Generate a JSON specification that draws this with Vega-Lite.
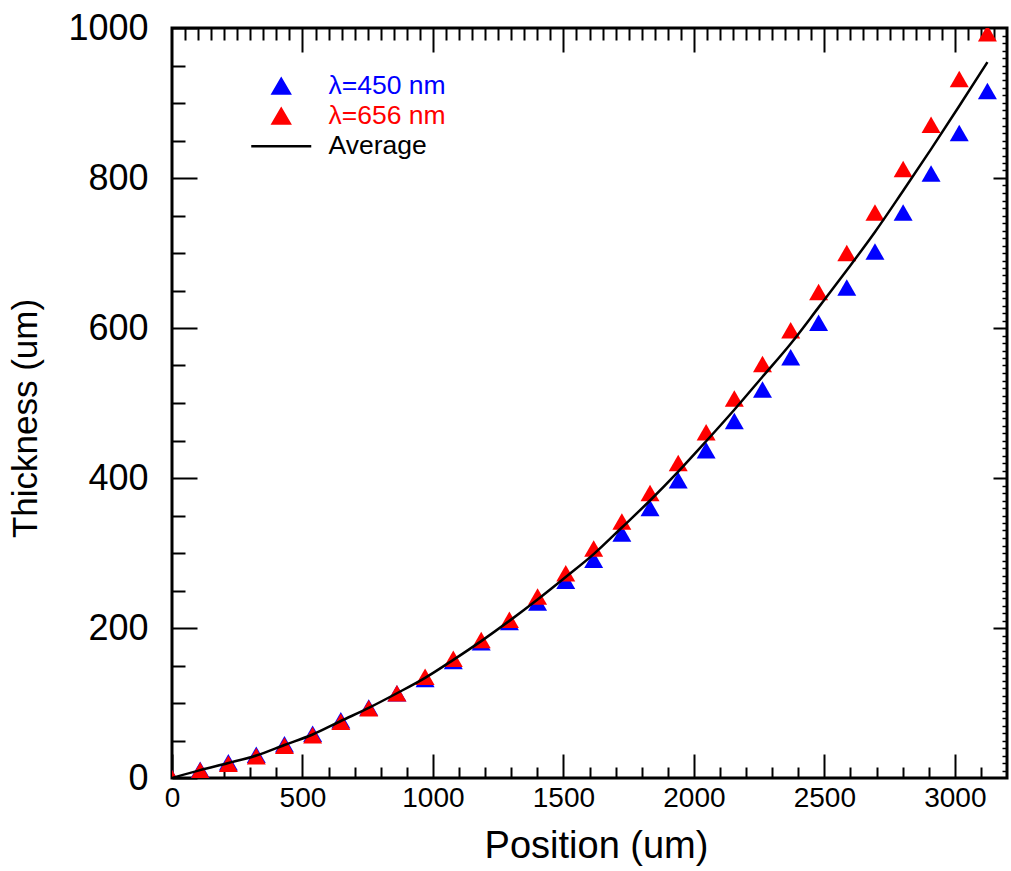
{
  "$schema": "https://vega.github.io/schema/vega-lite/v6.json",
  "autosize": {"type": "none"},
  "width": 835,
  "height": 750,
  "padding": {"left": 172, "top": 28, "right": 4, "bottom": 93},
  "background": "white",
  "config": {
    "view": {"stroke": "black", "strokeWidth": 3},
    "font": "Liberation Sans",
    "axis": {"grid": false, "domain": false, "tickColor": "black", "tickWidth": 2, "labelColor": "black", "titleColor": "black", "labelFont": "Liberation Sans", "titleFont": "Liberation Sans", "titleFontWeight": "normal", "labelOverlap": false, "labelFlush": false, "labelBound": false},
    "axisLeft": {"labelFontSize": 36},
    "axisBottom": {"labelFontSize": 28}
  },
  "datasets": {
    "pts": [
      {"position": 0, "thickness": 0, "series": "λ=450 nm"},
      {"position": 108, "thickness": 11, "series": "λ=450 nm"},
      {"position": 216, "thickness": 21, "series": "λ=450 nm"},
      {"position": 323, "thickness": 31, "series": "λ=450 nm"},
      {"position": 431, "thickness": 45, "series": "λ=450 nm"},
      {"position": 539, "thickness": 59, "series": "λ=450 nm"},
      {"position": 647, "thickness": 77, "series": "λ=450 nm"},
      {"position": 754, "thickness": 94, "series": "λ=450 nm"},
      {"position": 862, "thickness": 113, "series": "λ=450 nm"},
      {"position": 970, "thickness": 132, "series": "λ=450 nm"},
      {"position": 1078, "thickness": 156, "series": "λ=450 nm"},
      {"position": 1185, "thickness": 181, "series": "λ=450 nm"},
      {"position": 1293, "thickness": 208, "series": "λ=450 nm"},
      {"position": 1401, "thickness": 234, "series": "λ=450 nm"},
      {"position": 1509, "thickness": 263, "series": "λ=450 nm"},
      {"position": 1616, "thickness": 291, "series": "λ=450 nm"},
      {"position": 1724, "thickness": 326, "series": "λ=450 nm"},
      {"position": 1832, "thickness": 360, "series": "λ=450 nm"},
      {"position": 1940, "thickness": 397, "series": "λ=450 nm"},
      {"position": 2047, "thickness": 437, "series": "λ=450 nm"},
      {"position": 2155, "thickness": 476, "series": "λ=450 nm"},
      {"position": 2263, "thickness": 518, "series": "λ=450 nm"},
      {"position": 2371, "thickness": 561, "series": "λ=450 nm"},
      {"position": 2478, "thickness": 607, "series": "λ=450 nm"},
      {"position": 2586, "thickness": 654, "series": "λ=450 nm"},
      {"position": 2694, "thickness": 702, "series": "λ=450 nm"},
      {"position": 2802, "thickness": 754, "series": "λ=450 nm"},
      {"position": 2909, "thickness": 806, "series": "λ=450 nm"},
      {"position": 3017, "thickness": 860, "series": "λ=450 nm"},
      {"position": 3125, "thickness": 916, "series": "λ=450 nm"},
      {"position": 0, "thickness": 0, "series": "λ=656 nm"},
      {"position": 108, "thickness": 10, "series": "λ=656 nm"},
      {"position": 216, "thickness": 19, "series": "λ=656 nm"},
      {"position": 323, "thickness": 29, "series": "λ=656 nm"},
      {"position": 431, "thickness": 43, "series": "λ=656 nm"},
      {"position": 539, "thickness": 57, "series": "λ=656 nm"},
      {"position": 647, "thickness": 75, "series": "λ=656 nm"},
      {"position": 754, "thickness": 93, "series": "λ=656 nm"},
      {"position": 862, "thickness": 113, "series": "λ=656 nm"},
      {"position": 970, "thickness": 135, "series": "λ=656 nm"},
      {"position": 1078, "thickness": 159, "series": "λ=656 nm"},
      {"position": 1185, "thickness": 184, "series": "λ=656 nm"},
      {"position": 1293, "thickness": 211, "series": "λ=656 nm"},
      {"position": 1401, "thickness": 242, "series": "λ=656 nm"},
      {"position": 1509, "thickness": 273, "series": "λ=656 nm"},
      {"position": 1616, "thickness": 306, "series": "λ=656 nm"},
      {"position": 1724, "thickness": 342, "series": "λ=656 nm"},
      {"position": 1832, "thickness": 380, "series": "λ=656 nm"},
      {"position": 1940, "thickness": 420, "series": "λ=656 nm"},
      {"position": 2047, "thickness": 461, "series": "λ=656 nm"},
      {"position": 2155, "thickness": 506, "series": "λ=656 nm"},
      {"position": 2263, "thickness": 552, "series": "λ=656 nm"},
      {"position": 2371, "thickness": 597, "series": "λ=656 nm"},
      {"position": 2478, "thickness": 648, "series": "λ=656 nm"},
      {"position": 2586, "thickness": 700, "series": "λ=656 nm"},
      {"position": 2694, "thickness": 754, "series": "λ=656 nm"},
      {"position": 2802, "thickness": 812, "series": "λ=656 nm"},
      {"position": 2909, "thickness": 871, "series": "λ=656 nm"},
      {"position": 3017, "thickness": 932, "series": "λ=656 nm"},
      {"position": 3125, "thickness": 993, "series": "λ=656 nm"}
    ],
    "avg": [
      {"position": 0, "thickness": 0, "series": "Average"},
      {"position": 108, "thickness": 10.5, "series": "Average"},
      {"position": 216, "thickness": 20, "series": "Average"},
      {"position": 323, "thickness": 30, "series": "Average"},
      {"position": 431, "thickness": 44, "series": "Average"},
      {"position": 539, "thickness": 58, "series": "Average"},
      {"position": 647, "thickness": 76, "series": "Average"},
      {"position": 754, "thickness": 93.5, "series": "Average"},
      {"position": 862, "thickness": 113, "series": "Average"},
      {"position": 970, "thickness": 133.5, "series": "Average"},
      {"position": 1078, "thickness": 157.5, "series": "Average"},
      {"position": 1185, "thickness": 182.5, "series": "Average"},
      {"position": 1293, "thickness": 209.5, "series": "Average"},
      {"position": 1401, "thickness": 238, "series": "Average"},
      {"position": 1509, "thickness": 268, "series": "Average"},
      {"position": 1616, "thickness": 298.5, "series": "Average"},
      {"position": 1724, "thickness": 334, "series": "Average"},
      {"position": 1832, "thickness": 370, "series": "Average"},
      {"position": 1940, "thickness": 408.5, "series": "Average"},
      {"position": 2047, "thickness": 449, "series": "Average"},
      {"position": 2155, "thickness": 491, "series": "Average"},
      {"position": 2263, "thickness": 535, "series": "Average"},
      {"position": 2371, "thickness": 579, "series": "Average"},
      {"position": 2478, "thickness": 627.5, "series": "Average"},
      {"position": 2586, "thickness": 677, "series": "Average"},
      {"position": 2694, "thickness": 728, "series": "Average"},
      {"position": 2802, "thickness": 783, "series": "Average"},
      {"position": 2909, "thickness": 838.5, "series": "Average"},
      {"position": 3017, "thickness": 896, "series": "Average"},
      {"position": 3125, "thickness": 954.5, "series": "Average"}
    ]
  },
  "resolve": {"axis": {"x": "independent", "y": "independent"}, "legend": {"color": "independent"}},
  "layer": [
    {
      "data": {"name": "pts"},
      "transform": [{"filter": "datum.series === 'λ=450 nm'"}],
      "mark": {"type": "point", "shape": "triangle-up", "filled": true, "size": 360, "opacity": 1, "clip": true},
      "encoding": {
        "x": {"field": "position", "type": "quantitative", "scale": {"domain": [0, 3200], "nice": false, "zero": false},
          "axis": {"orient": "bottom", "values": [0, 500, 1000, 1500, 2000, 2500, 3000], "format": "d", "tickSize": -24, "labelFontSize": 28, "labelPadding": 30,
            "title": "Position (um)", "titleFontSize": 38, "titleX": 424, "titleY": 79, "titleBaseline": "alphabetic", "titleAlign": "center"}},
        "y": {"field": "thickness", "type": "quantitative", "scale": {"domain": [0, 1000], "nice": false, "zero": false},
          "axis": {"orient": "left", "values": [0, 200, 400, 600, 800, 1000], "format": "d", "tickSize": -25, "labelFontSize": 36, "labelPadding": 49, "labelBaseline": "middle",
            "title": "Thickness (um)", "titleFontSize": 35, "titleX": -136, "titleY": 390, "titleBaseline": "alphabetic", "titleAlign": "center", "titleAngle": 270}},
        "color": {"field": "series", "type": "nominal",
          "scale": {"domain": ["λ=450 nm", "λ=656 nm", "Average"], "range": ["#0000ff", "#ff0000", "#000000"]}, "legend": null}
      }
    },
    {
      "data": {"name": "pts"},
      "transform": [{"filter": "datum.series === 'λ=656 nm'"}],
      "mark": {"type": "point", "shape": "triangle-up", "filled": true, "size": 360, "opacity": 1, "clip": true},
      "encoding": {
        "x": {"field": "position", "type": "quantitative", "scale": {"domain": [0, 3200], "nice": false, "zero": false},
          "axis": {"orient": "bottom", "values": [100, 200, 300, 400, 600, 700, 800, 900, 1100, 1200, 1300, 1400, 1600, 1700, 1800, 1900, 2100, 2200, 2300, 2400, 2600, 2700, 2800, 2900, 3100], "tickSize": -11, "labels": false, "title": null}},
        "y": {"field": "thickness", "type": "quantitative", "scale": {"domain": [0, 1000], "nice": false, "zero": false},
          "axis": {"orient": "left", "values": [50, 100, 150, 250, 300, 350, 450, 500, 550, 650, 700, 750, 850, 900, 950], "tickSize": -13, "labels": false, "title": null}},
        "color": {"field": "series", "type": "nominal", "scale": {"domain": ["λ=450 nm", "λ=656 nm", "Average"], "range": ["#0000ff", "#ff0000", "#000000"]}, "legend": null}
      }
    },
    {
      "data": {"name": "avg"},
      "mark": {"type": "line", "strokeWidth": 2.5, "interpolate": "monotone", "clip": true},
      "encoding": {
        "x": {"field": "position", "type": "quantitative", "scale": {"domain": [0, 3200], "nice": false, "zero": false},
          "axis": {"orient": "top", "values": [500, 1000, 1500, 2000, 2500, 3000], "tickSize": -24, "labels": false, "title": null}},
        "y": {"field": "thickness", "type": "quantitative", "scale": {"domain": [0, 1000], "nice": false, "zero": false},
          "axis": {"orient": "right", "values": [200, 400, 600, 800], "tickSize": -14, "labels": false, "title": null}},
        "color": {"field": "series", "type": "nominal", "scale": {"domain": ["λ=450 nm", "λ=656 nm", "Average"], "range": ["#0000ff", "#ff0000", "#000000"]},
          "legend": {"title": null, "orient": "none", "legendX": 96, "legendY": 45, "padding": 0,
            "symbolType": {"expr": "datum.value === 'Average' ? 'stroke' : 'triangle-up'"},
            "symbolSize": {"expr": "datum.value === 'Average' ? 3600 : 290"},
            "symbolFillColor": {"expr": "datum.value === 'Average' ? 'transparent' : scale('color', datum.value)"},
            "symbolStrokeWidth": 2.5, "symbolOpacity": 1,
            "labelFont": "Liberation Sans", "labelFontSize": 26.5, "labelOffset": 34, "rowPadding": 3, "labelBaseline": "middle",
            "labelColor": {"expr": "scale('color', datum.value)"}}}
      }
    },
    {
      "data": {"name": "avg"},
      "mark": {"type": "point", "opacity": 0},
      "encoding": {
        "x": {"field": "position", "type": "quantitative", "scale": {"domain": [0, 3200], "nice": false, "zero": false},
          "axis": {"orient": "top", "values": [50, 100, 150, 200, 250, 300, 350, 400, 450, 550, 600, 650, 700, 750, 800, 850, 900, 950, 1050, 1100, 1150, 1200, 1250, 1300, 1350, 1400, 1450, 1550, 1600, 1650, 1700, 1750, 1800, 1850, 1900, 1950, 2050, 2100, 2150, 2200, 2250, 2300, 2350, 2400, 2450, 2550, 2600, 2650, 2700, 2750, 2800, 2850, 2900, 2950, 3050, 3100, 3150], "tickSize": -12, "labels": false, "title": null}},
        "y": {"field": "thickness", "type": "quantitative", "scale": {"domain": [0, 1000], "nice": false, "zero": false},
          "axis": {"orient": "right", "values": [10, 20, 30, 40, 50, 60, 70, 80, 90, 100, 110, 120, 130, 140, 150, 160, 170, 180, 190, 210, 220, 230, 240, 250, 260, 270, 280, 290, 300, 310, 320, 330, 340, 350, 360, 370, 380, 390, 410, 420, 430, 440, 450, 460, 470, 480, 490, 500, 510, 520, 530, 540, 550, 560, 570, 580, 590, 610, 620, 630, 640, 650, 660, 670, 680, 690, 700, 710, 720, 730, 740, 750, 760, 770, 780, 790, 810, 820, 830, 840, 850, 860, 870, 880, 890, 900, 910, 920, 930, 940, 950, 960, 970, 980, 990], "tickSize": -5, "tickWidth": 1.5, "labels": false, "title": null}}
      }
    }
  ]
}
